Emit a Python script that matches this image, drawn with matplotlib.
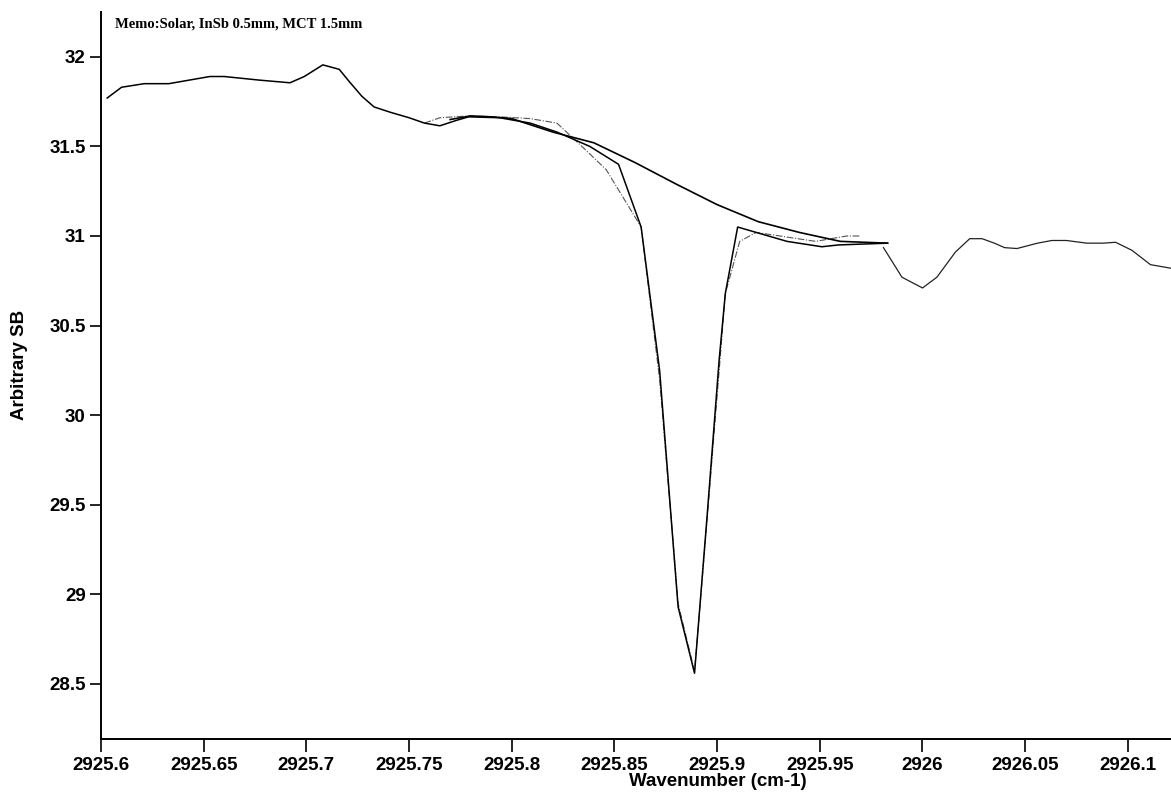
import matplotlib.pyplot as plt

# measured spectrum, left part (black)
wn_data = [2925.603, 2925.610, 2925.621, 2925.633, 2925.653, 2925.660, 2925.677,
           2925.692, 2925.699, 2925.708, 2925.716, 2925.721, 2925.727, 2925.733,
           2925.741, 2925.750, 2925.7575, 2925.765, 2925.773, 2925.779, 2925.794,
           2925.809, 2925.822, 2925.838, 2925.852, 2925.863, 2925.872, 2925.881,
           2925.889, 2925.895, 2925.901, 2925.904, 2925.910, 2925.919, 2925.934,
           2925.951, 2925.959, 2925.983]
sb_data = [31.77, 31.83, 31.85, 31.85, 31.89, 31.89, 31.87,
           31.855, 31.89, 31.955, 31.93, 31.86, 31.78, 31.72,
           31.69, 31.66, 31.63, 31.615, 31.645, 31.665, 31.66,
           31.63, 31.58, 31.50, 31.40, 31.05, 30.25, 28.93,
           28.56, 29.42, 30.31, 30.68, 31.05, 31.02, 30.97,
           30.94, 30.95, 30.96]

# second trace (thin, lighter)
wn_alt = [2925.7575, 2925.765, 2925.779, 2925.794, 2925.809, 2925.822, 2925.836,
          2925.846, 2925.863, 2925.872, 2925.881, 2925.889, 2925.895, 2925.901,
          2925.904, 2925.911, 2925.919, 2925.948, 2925.963, 2925.970]
sb_alt = [31.63, 31.66, 31.67, 31.665, 31.655, 31.63, 31.48,
          31.37, 31.05, 30.20, 28.95, 28.57, 29.40, 30.25,
          30.68, 30.97, 31.02, 30.97, 31.00, 31.00]

# smooth continuum across the line
wn_fit = [2925.77, 2925.78, 2925.79, 2925.80, 2925.82, 2925.84, 2925.86,
          2925.88, 2925.90, 2925.92, 2925.94, 2925.96, 2925.983]
sb_fit = [31.65, 31.67, 31.665, 31.655, 31.58, 31.52, 31.41,
          31.29, 31.175, 31.08, 31.02, 30.97, 30.96]

# right part of the spectrum
wn_right = [2925.981, 2925.990, 2926.000, 2926.007, 2926.016, 2926.023, 2926.029,
            2926.035, 2926.040, 2926.046, 2926.056, 2926.063, 2926.070, 2926.080,
            2926.088, 2926.094, 2926.102, 2926.111, 2926.121]
sb_right = [30.935, 30.77, 30.71, 30.77, 30.91, 30.985, 30.985,
            30.96, 30.935, 30.93, 30.96, 30.975, 30.975, 30.96,
            30.96, 30.965, 30.92, 30.84, 30.82]

xticks = [2925.6, 2925.65, 2925.7, 2925.75, 2925.8, 2925.85, 2925.9, 2925.95,
          2926.0, 2926.05, 2926.1]
xlabels = ['2925.6', '2925.65', '2925.7', '2925.75', '2925.8', '2925.85',
           '2925.9', '2925.95', '2926', '2926.05', '2926.1']
yticks = [28.5, 29, 29.5, 30, 30.5, 31, 31.5, 32]
ylabels = ['28.5', '29', '29.5', '30', '30.5', '31', '31.5', '32']

W, H = 1171, 792
fig = plt.figure(figsize=(W / 100, H / 100), dpi=100)
ax = fig.add_axes([101 / W, 1 - 739 / H, 1 - 101 / W, (739 - 12) / H])

ax.plot(wn_alt, sb_alt, color='#555555', linewidth=0.8, linestyle=(0, (6, 1.5, 1, 1.5)))
ax.plot(wn_fit, sb_fit, color='black', linewidth=1.2)
ax.plot(wn_data, sb_data, color='black', linewidth=1.1)
ax.plot(wn_right, sb_right, color='#222222', linewidth=0.9)

ax.set_xlim(2925.6, 2926.121)
ax.set_ylim(28.193, 32.25)
ax.spines['top'].set_visible(False)
ax.spines['right'].set_visible(False)
ax.spines['left'].set_linewidth(1.4)
ax.spines['bottom'].set_linewidth(1.4)

font = ['Liberation Sans', 'DejaVu Sans']
ax.set_xticks(xticks)
ax.set_xticklabels(xlabels, family=font, fontweight='bold', fontsize=13.5)
ax.set_yticks(yticks)
ax.set_yticklabels(ylabels, family=font, fontweight='bold', fontsize=13.5)
ax.tick_params(axis='x', length=9, width=1.2, pad=4)
ax.tick_params(axis='y', length=8, width=1.2, pad=3)

fig.text(718 / W, 1 - 781 / H, 'Wavenumber (cm-1)', family=font, fontweight='bold',
         fontsize=13.5, ha='center', va='center')
fig.text(20 / W, 1 - 365 / H, 'Arbitrary SB', family=font, fontweight='bold',
         fontsize=13.5, ha='center', va='center', rotation=90)
fig.text(115 / W, 1 - 24 / H, 'Memo:Solar, InSb 0.5mm, MCT 1.5mm',
         family=['Liberation Serif', 'DejaVu Serif'], fontweight='bold',
         fontsize=10.5, ha='left', va='center')

fig.savefig('out.png', dpi=100)
